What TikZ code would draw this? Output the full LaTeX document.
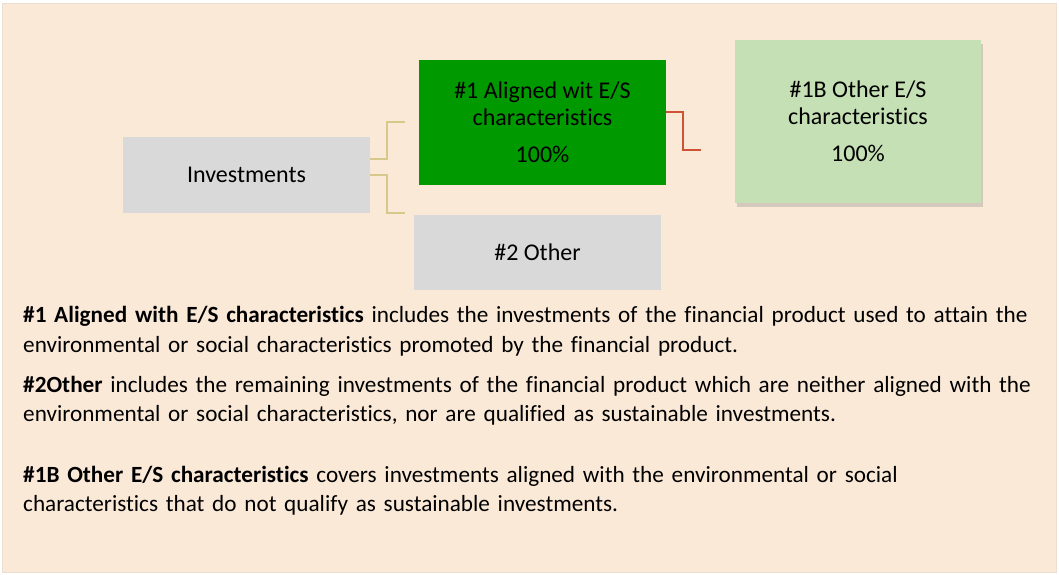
\documentclass[tikz,border=0pt]{standalone}
\usepackage{fontspec}
\setmainfont{Carlito}[Ligatures = NoCommon]
\usepackage{tikz}
\usetikzlibrary{calc, shadows}
\definecolor{paper}{RGB}{251,233,216}
\definecolor{rim}{RGB}{236,222,208}
\definecolor{boxgray}{RGB}{217,217,217}
\definecolor{aligned}{RGB}{0,153,0}
\definecolor{otheres}{RGB}{197,224,180}
\definecolor{khaki}{RGB}{214,201,138}
\definecolor{rust}{RGB}{208,82,52}
\tikzset{
  box/.style = {minimum width = 247pt, inner sep = 0pt, align = center,
    font = \fontsize{24}{27}\selectfont},
  branch/.style = {line width = 2pt, khaki},
  note/.style = {anchor = west, inner sep = 0pt, text width = 1030pt, align = left,
    font = \fontsize{23.2}{29.5}\selectfont}
}
\begin{document}
\begin{tikzpicture}[x = 1pt, y = -1pt]
\useasboundingbox (0,0) rectangle (1059,574);
\fill[white] (0,0) rectangle (1059,574);
\draw[fill = paper, draw = rim] (2,3) rectangle (1056,572);
\node[box, fill = boxgray, minimum height = 76pt] (inv) at (246.5,175) {Investments};
\node[box, fill = aligned, minimum height = 125pt] (al) at (542.5,122.5)
  {\#1 Aligned wit E/S\\characteristics\\[10pt]100\%};
\node[box, fill = boxgray, minimum height = 75pt] (oth) at (537.5,252.5) {\#2 Other};
\node[box, fill = otheres, minimum width = 246pt, minimum height = 163pt,
  drop shadow = {shadow xshift = 1.5pt, shadow yshift = -3.5pt, opacity = 0.3}] (oes) at (858,121.5)
  {\#1B Other E/S\\characteristics\\[10pt]100\%};
\coordinate (up) at (405,122);
\coordinate (down) at (405,213);
\coordinate (right) at (701,150);
\draw[branch] ([yshift = 16pt]inv.east) -| ($(up)+(-18,0)$) -- (up);
\draw[branch] (inv.east) -| ($(down)+(-18,0)$) -- (down);
\draw[line width = 2pt, rust] ([yshift = 10.5pt]al.east) -| ($(right)+(-18,0)$) -- (right);
\node[note] (par1) at (23,331) {\textbf{\#1 Aligned with E/S characteristics} includes the investments of the financial product used to attain the\\environmental or social characteristics promoted by the financial product.};
\node[note] (par2) at (23,400.5) {\textbf{\#2Other} includes the remaining investments of the financial product which are neither aligned with the\\environmental or social characteristics, nor are qualified as sustainable investments.};
\node[note] (par3) at (23,490.5) {\textbf{\#1B Other E/S characteristics} covers investments aligned with the environmental or social\\characteristics that do not qualify as sustainable investments.};
\end{tikzpicture}
\end{document}
